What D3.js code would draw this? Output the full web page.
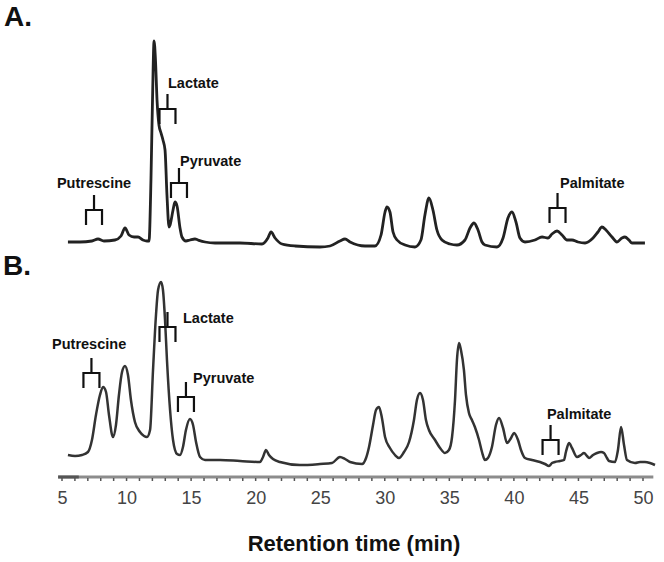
<!DOCTYPE html>
<html>
<head>
<meta charset="utf-8">
<script src="https://cdn.jsdelivr.net/npm/d3@7"></script>
<style>
  body { margin: 0; background: #fff; }
  svg { display: block; font-family: "Liberation Sans", Arial, sans-serif; }
</style>
</head>
<body>
<div class="graphHolder"></div>
<script>
// retention time (min) and detector signal
const timeA = [5.46, 6.39, 7.32, 7.79, 8.25, 9.10, 9.57, 9.88, 10.19, 10.58, 10.89, 11.27, 11.58, 11.74, 11.89, 12.01, 12.13, 12.24, 12.36, 12.51, 12.67, 12.82, 12.98, 13.13, 13.29, 13.37, 13.60, 13.75, 13.91, 14.14, 14.29, 14.60, 14.91, 15.30, 15.53, 16.08, 16.85, 18.79, 20.49, 20.95, 21.19, 21.50, 22.04, 23.05, 24.98, 25.76, 26.53, 26.92, 27.31, 28.47, 29.24, 29.71, 30.02, 30.17, 30.40, 30.64, 30.95, 31.57, 32.34, 32.80, 33.11, 33.42, 33.73, 34.04, 34.43, 35.05, 35.59, 36.21, 36.60, 36.91, 37.22, 37.53, 37.76, 38.69, 39.16, 39.54, 39.85, 40.16, 40.47, 40.86, 41.63, 42.18, 42.64, 42.95, 43.34, 43.73, 44.11, 44.50, 44.96, 45.51, 46.13, 46.51, 46.82, 47.13, 47.60, 47.98, 48.37, 48.60, 48.91, 49.15, 49.61, 50.15];
const signalA = [1, 1, 2, 4, 2, 3, 7, 15, 8, 6, 6, 3, 2, 2, 63, 143, 202, 183, 143, 118, 110, 103, 93, 48, 16, 18, 33, 41, 37, 15, 6, 2, 3, 4, 3, 1, 0, 0, -1, 5, 11, 5, -1, -3, -4, -3, 2, 4, 1, -3, -3, 8, 31, 36, 31, 11, 3, -2, -4, 3, 28, 45, 33, 13, 3, -1, -2, 3, 15, 20, 13, 1, -2, -4, 5, 25, 31, 21, 5, 1, 3, 6, 5, 9, 12, 8, 3, 3, 1, 0, 5, 11, 16, 13, 6, 1, 5, 6, 3, 0, 0, 0];

const timeB = [5.46, 6.01, 6.55, 7.01, 7.32, 7.63, 7.94, 8.18, 8.41, 8.64, 8.95, 9.18, 9.41, 9.65, 9.88, 10.11, 10.34, 10.65, 11.04, 11.35, 11.58, 11.82, 12.05, 12.28, 12.44, 12.67, 12.82, 12.98, 13.13, 13.37, 13.60, 13.91, 14.14, 14.37, 14.60, 14.91, 15.15, 15.38, 15.69, 16.08, 17.24, 18.79, 20.33, 20.57, 20.80, 21.03, 21.34, 21.88, 23.43, 24.98, 25.91, 26.53, 26.92, 27.31, 28.24, 28.55, 28.78, 29.09, 29.32, 29.55, 29.78, 30.02, 30.40, 30.79, 31.10, 31.49, 31.88, 32.26, 32.49, 32.73, 32.96, 33.19, 33.42, 33.89, 34.28, 34.66, 34.97, 35.21, 35.44, 35.59, 35.75, 35.90, 36.13, 36.29, 36.52, 36.75, 36.98, 37.30, 37.53, 37.76, 37.99, 38.30, 38.61, 38.85, 39.16, 39.47, 39.78, 40.01, 40.32, 40.55, 40.86, 41.40, 42.02, 42.41, 42.72, 42.95, 43.18, 43.57, 43.88, 44.03, 44.27, 44.50, 44.89, 45.20, 45.43, 45.66, 45.82, 46.13, 46.44, 46.75, 46.98, 47.21, 47.37, 47.83, 48.06, 48.30, 48.53, 48.76, 49.38, 49.77, 50.15, 50.54, 50.93];
const signalB = [8, 7, 8, 11, 23, 48, 68, 76, 71, 48, 26, 38, 68, 91, 97, 88, 63, 41, 31, 27, 26, 33, 93, 148, 173, 181, 173, 143, 103, 53, 23, 9, 8, 16, 33, 44, 38, 21, 6, 3, 3, 2, 1, 6, 13, 8, 4, 1, -2, -1, 0, 6, 4, 1, -1, 5, 16, 38, 53, 56, 45, 26, 15, 8, 5, 11, 21, 43, 63, 70, 63, 43, 33, 23, 15, 10, 13, 26, 63, 103, 120, 113, 93, 68, 50, 43, 36, 23, 11, 3, 5, 16, 38, 45, 35, 20, 25, 30, 23, 13, 5, 3, 1, -1, -3, 0, 1, 2, 3, 11, 20, 15, 6, 8, 10, 7, 5, 8, 10, 11, 10, 5, 2, 1, 13, 36, 18, 3, 0, 1, 1, 0, -2];

const xTicks = [5, 10, 15, 20, 25, 30, 35, 40, 45, 50];

// compound annotations: bracket centre (min), bracket bar level, label anchor
const compounds = ["Putrescine", "Lactate", "Pyruvate", "Palmitate"];
const bracketTimeA = [7.48, 13.17, 14.06, 43.38];
const bracketLevelA = [33, 134, 60, 35];
const labelTimeA = [4.61, 13.21, 14.14, 43.57];
const labelLevelA = [55, 155, 77, 55];
const bracketTimeB = [7.28, 13.17, 14.60, 42.84];
const bracketLevelB = [90, 136, 66, 23];
const labelTimeB = [4.23, 14.37, 15.15, 42.56];
const labelLevelB = [114, 140, 80, 44];

const W = 664, H = 562;

const svg = d3.select(".graphHolder")
  .append("svg")
  .attr("width", W)
  .attr("height", H);

const x = d3.scaleLinear().domain([5, 50]).range([62, 643]);
const yA = d3.scaleLinear().domain([0, 200]).range([243, 43]);
const yB = d3.scaleLinear().domain([0, 200]).range([463, 263]);

function drawTrace(times, values, y, color, width) {
  const line = d3.line()
    .x((d, i) => x(times[i]))
    .y(d => y(d))
    .curve(d3.curveMonotoneX);
  svg.append("path")
    .datum(values)
    .attr("d", line)
    .attr("fill", "none")
    .attr("stroke", color)
    .attr("stroke-width", width)
    .attr("stroke-linejoin", "round");
}

drawTrace(timeA, signalA, yA, "#222", 2.8);
drawTrace(timeB, signalB, yB, "#333", 2.5);

// brackets + labels
function drawBrackets(bt, bl, lt, ll, y) {
  const g = svg.append("g");
  compounds.forEach((name, i) => {
    const cx = x(bt[i]), cy = y(bl[i]);
    const hw = 8;
    g.append("path")
      .attr("d", "M" + (cx - hw) + "," + (cy + 15) + "V" + cy + "H" + (cx + hw) + "V" + (cy + 15)
        + "M" + cx + "," + cy + "V" + (cy - 15))
      .attr("fill", "none")
      .attr("stroke", "#111")
      .attr("stroke-width", 2.2);
    g.append("text")
      .attr("x", x(lt[i]))
      .attr("y", y(ll[i]))
      .attr("font-size", 14.5)
      .attr("font-weight", "bold")
      .attr("fill", "#111")
      .text(name);
  });
}
drawBrackets(bracketTimeA, bracketLevelA, labelTimeA, labelLevelA, yA);
drawBrackets(bracketTimeB, bracketLevelB, labelTimeB, labelLevelB, yB);

// panel letters
svg.append("text").attr("x", 4).attr("y", 26)
  .attr("font-size", 28).attr("font-weight", "bold").attr("fill", "#111").text("A.");
svg.append("text").attr("x", 3).attr("y", 275)
  .attr("font-size", 28).attr("font-weight", "bold").attr("fill", "#111").text("B.");

// x axis
const axisY = 477;
svg.append("line")
  .attr("x1", x(4.7)).attr("x2", x(50.8))
  .attr("y1", axisY).attr("y2", axisY)
  .attr("stroke", "#8c8c8c")
  .attr("stroke-width", 3);
svg.append("line")
  .attr("x1", x(4.7)).attr("x2", x(6.3))
  .attr("y1", axisY).attr("y2", axisY)
  .attr("stroke", "#555")
  .attr("stroke-width", 3);

svg.append("g")
  .selectAll("line")
  .data(d3.range(5, 51))
  .enter()
  .append("line")
  .attr("x1", d => x(d)).attr("x2", d => x(d))
  .attr("y1", axisY + 1).attr("y2", axisY + 4)
  .attr("stroke", "#555")
  .attr("stroke-width", 1.5);

const xAxis = d3.axisBottom(x).tickValues(xTicks).tickSize(0).tickPadding(14);
const xAxisGroup = svg.append("g")
  .attr("transform", "translate(0," + axisY + ")")
  .call(xAxis);
xAxisGroup.select(".domain").remove();
xAxisGroup.selectAll("text")
  .attr("font-family", "Liberation Sans, Arial, sans-serif")
  .attr("font-size", 18)
  .attr("fill", "#444");

svg.append("text")
  .attr("x", 354)
  .attr("y", 551)
  .attr("text-anchor", "middle")
  .attr("font-size", 22)
  .attr("font-weight", "bold")
  .attr("fill", "#111")
  .text("Retention time (min)");
</script>
</body>
</html>
